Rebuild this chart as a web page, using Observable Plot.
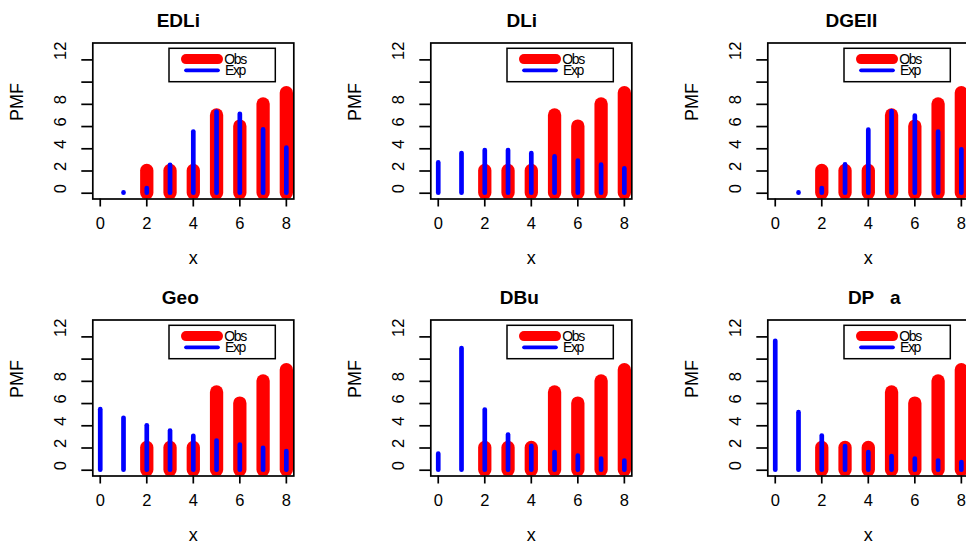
<!DOCTYPE html>
<html><head><meta charset="utf-8">
<script src="https://cdn.jsdelivr.net/npm/d3@7"></script>
<script src="https://cdn.jsdelivr.net/npm/@observablehq/plot@0.6"></script>
<style>
body{margin:0;background:#fff;}
#wrap{position:relative;width:966px;height:545px;overflow:hidden;background:#fff;}
.panel{position:absolute;width:337.5px;height:276px;}
.panel svg{max-width:none !important;}
</style></head><body><div id="wrap"></div>
<script>
// ---- data ----
const xValues = [0, 1, 2, 3, 4, 5, 6, 7, 8];
const observed = [0, 0, 2, 2, 2, 7, 6, 8, 9];
const titles = ["EDLi", "DLi", "DGEII", "Geo", "DBu", "DP\u00a0\u00a0\u00a0a"];
const expEDLi  = [0, 0.03, 0.42, 2.5, 5.5, 7.3, 7.1, 5.7, 4.05];
const expDLi   = [2.73, 3.57, 3.84, 3.84, 3.57, 3.27, 2.88, 2.52, 2.19];
const expDGEII = [0, 0.03, 0.42, 2.55, 5.67, 7.35, 6.93, 5.49, 3.9];
const expGeo   = [5.45, 4.67, 4.0, 3.53, 3.05, 2.63, 2.27, 1.97, 1.68];
const expDBu   = [1.44, 10.95, 5.41, 3.17, 2.15, 1.59, 1.26, 0.99, 0.81];
const expDPa   = [11.6, 5.18, 3.08, 2.13, 1.59, 1.23, 1.01, 0.83, 0.69];
const xTicks = [0, 2, 4, 6, 8];
const yTicks = [0, 2, 4, 6, 8, 10, 12];
const yTickLabels = ["0", "2", "4", "6", "8", "", "12"];
const legendLabels = ["Obs", "Exp"];
const xLabel = "x";
const yLabel = "PMF";

// ---- layout ----
const expSeries = [expEDLi, expDLi, expDGEII, expGeo, expDBu, expDPa];
const titleDx = [-15, -9.5, -17, -13, -12, 6];
const FONT = "'Liberation Sans', Arial, Helvetica, sans-serif";
const W = 337.5, H = 276;
const M = {left: 92.3, right: 44.2, top: 42.5, bottom: 77.5};
const colX = [0, 337.5, 675];
const rowY = [0, 276.6];
const RED = "#ff0000", BLUE = "#0000ff";

const wrap = document.getElementById("wrap");

expSeries.forEach((exp, k) => {
  const obsData = xValues.map((x, i) => ({x, y: observed[i]})).filter(d => d.y > 0);
  const expData = xValues.map((x, i) => ({x, y: exp[i]})).filter(d => d.y > 0);
  const svg = Plot.plot({
    width: W, height: H,
    marginLeft: M.left, marginRight: M.right, marginTop: M.top, marginBottom: M.bottom,
    x: {type: "linear", domain: [-0.32, 8.32], axis: null},
    y: {type: "linear", domain: [-0.52, 13.52], axis: null},
    style: {fontFamily: FONT, background: "white", color: "black", overflow: "visible", maxWidth: "none"},
    marks: [
      Plot.ruleX(obsData, {x: "x", y1: 0, y2: "y", stroke: RED, strokeWidth: 13.3, strokeLinecap: "round", clip: true}),
      Plot.ruleX(expData, {x: "x", y1: 0, y2: "y", stroke: BLUE, strokeWidth: 4.7, strokeLinecap: "round", clip: true}),
      Plot.frame({stroke: "black", strokeWidth: 1.7}),
      Plot.axisX(xTicks, {tickSize: 8, tickPadding: 10, strokeWidth: 1.7, fontSize: 16.5, label: null, fill: "black", stroke: "black"}),
      Plot.axisY(yTicks, {tickSize: 11, tickFormat: () => "", strokeWidth: 1.7, label: null, stroke: "black"}),
      Plot.text(yTicks, {y: d => d, text: (d, i) => yTickLabels[i], frameAnchor: "left", dx: -32, rotate: -90, fontSize: 16.5, fill: "black"}),
      Plot.text([titles[k]], {text: d => d, frameAnchor: "top", dy: -22.5, dx: titleDx[k], fontSize: 19, fontWeight: "bold", lineAnchor: "middle", fill: "black"}),
      Plot.text([xLabel], {text: d => d, frameAnchor: "bottom", dy: 59, fontSize: 18, lineAnchor: "middle", fill: "black"}),
      Plot.text([yLabel], {text: d => d, frameAnchor: "left", dx: -76, rotate: -90, fontSize: 18, fill: "black"})
    ]
  });
  svg.style.maxWidth = "none";
  svg.setAttribute("width", W);
  svg.setAttribute("height", H);
  // legend
  const s = d3.select(svg);
  const g = s.append("g").attr("transform", `translate(${M.left + 76.7},${M.top + 5.8})`);
  g.append("rect").attr("width", 106.3).attr("height", 33.4).attr("fill", "white").attr("stroke", "black").attr("stroke-width", 1.5);
  const rows = [{c: RED, w: 10, y: 10.8}, {c: BLUE, w: 3.7, y: 22}];
  rows.forEach((r, i) => {
    g.append("line").attr("x1", 17).attr("x2", 49).attr("y1", r.y).attr("y2", r.y)
      .attr("stroke", r.c).attr("stroke-width", r.w).attr("stroke-linecap", "round");
    g.append("text").attr("x", 66).attr("y", r.y).attr("dy", "0.35em")
      .attr("font-size", 14).attr("letter-spacing", "-1.4px").attr("font-family", FONT).attr("fill", "black")
      .text(legendLabels[i]);
  });
  const div = document.createElement("div");
  div.className = "panel";
  div.style.left = colX[k % 3] + "px";
  div.style.top = rowY[Math.floor(k / 3)] + "px";
  div.appendChild(svg);
  wrap.appendChild(div);
});
</script></body></html>
